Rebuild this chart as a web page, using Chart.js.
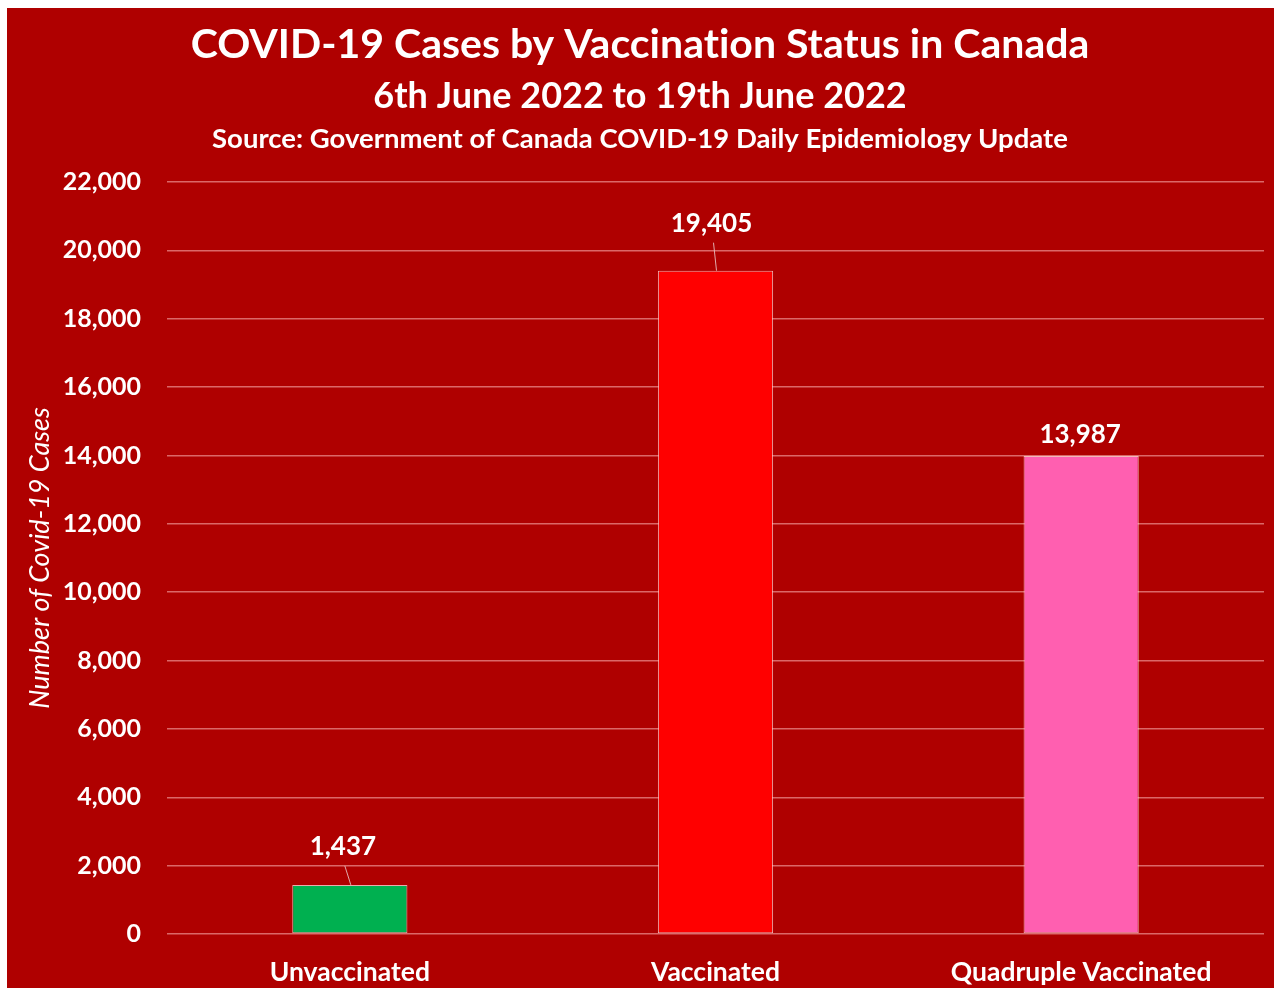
<!DOCTYPE html>
<html>
<head>
    <script src="https://cdn.jsdelivr.net/npm/chart.js"></script>
    <title>COVID-19 Cases by Vaccination Status in Canada</title>
    <style>
        html, body { margin: 0; padding: 0; background: #ffffff; }
        #wrap { position: absolute; left: 0; top: 0; width: 1274px; height: 988px; }
    </style>
</head>
<body>
    <div id="wrap">
        <canvas id="casesChart"></canvas>
    </div>

    <script>
        const categories = ['Unvaccinated', 'Vaccinated', 'Quadruple Vaccinated'];
        const cases = [1437, 19405, 13987];
        const barColors = ['#00b050', '#ff0000', '#ff5fb0'];
        const yTicks = [0, 2000, 4000, 6000, 8000, 10000, 12000, 14000, 16000, 18000, 20000, 22000];
        const titleLines = [
            'COVID-19 Cases by Vaccination Status in Canada',
            '6th June 2022 to 19th June 2022',
            'Source: Government of Canada COVID-19 Daily Epidemiology Update'
        ];

        const FONT = 'Lato, "Open Sans", sans-serif';
        const BG = '#af0000';

        // red panel with the thin white margin on top and left
        const panelPlugin = {
            id: 'panel',
            beforeDraw(chart) {
                const ctx = chart.ctx;
                ctx.save();
                ctx.fillStyle = '#ffffff';
                ctx.fillRect(0, 0, chart.width, chart.height);
                ctx.fillStyle = BG;
                ctx.fillRect(7, 8, chart.width - 7, chart.height - 8);
                ctx.restore();
            }
        };

        // three centred title lines in different sizes
        const headerPlugin = {
            id: 'header',
            afterDraw(chart, args, opts) {
                const ctx = chart.ctx;
                ctx.save();
                ctx.fillStyle = '#ffffff';
                ctx.textAlign = 'center';
                ctx.textBaseline = 'middle';
                ctx.letterSpacing = '0.01px'; // keeps "ti" from turning into a ligature
                opts.lines.forEach((line, i) => {
                    ctx.font = 'bold ' + opts.sizes[i] + 'px ' + FONT;
                    ctx.fillText(line, opts.x, opts.y[i]);
                });
                ctx.restore();
            }
        };

        // value labels above bars, some with a short leader line
        const valueLabelPlugin = {
            id: 'valueLabels',
            afterDatasetsDraw(chart, args, opts) {
                const ctx = chart.ctx;
                const meta = chart.getDatasetMeta(0);
                ctx.save();
                ctx.font = 'bold 26px ' + FONT;
                ctx.textAlign = 'center';
                ctx.textBaseline = 'middle';
                meta.data.forEach((bar, i) => {
                    const off = opts.offsets[i];
                    const lx = bar.x + off[0];
                    const ly = bar.y + off[1];
                    if (off[2]) {
                        ctx.strokeStyle = 'rgba(230,190,190,0.9)';
                        ctx.lineWidth = 1;
                        ctx.beginPath();
                        ctx.moveTo(lx + 2, ly + 19);
                        ctx.lineTo(bar.x + 1, bar.y);
                        ctx.stroke();
                    }
                    ctx.fillStyle = '#ffffff';
                    ctx.fillText(cases[i].toLocaleString('en-US'), lx, ly);
                });
                ctx.restore();
            }
        };

        const ctx = document.getElementById('casesChart').getContext('2d');
        const chart = new Chart(ctx, {
            type: 'bar',
            data: {
                labels: categories,
                datasets: [{
                    label: 'Number of Covid-19 Cases',
                    data: cases,
                    backgroundColor: barColors,
                    borderColor: 'rgba(255,230,230,0.75)',
                    borderWidth: 1,
                    borderSkipped: false,
                    barPercentage: 0.315,
                    categoryPercentage: 1
                }]
            },
            options: {
                responsive: true,
                maintainAspectRatio: false,
                animation: false,
                layout: {
                    padding: { left: 7, right: 10, top: 182, bottom: 0 }
                },
                plugins: {
                    legend: { display: false },
                    tooltip: { enabled: false },
                    header: {
                        lines: titleLines,
                        sizes: [41, 36, 27.5],
                        x: 640,
                        y: [45, 96, 139]
                    },
                    valueLabels: {
                        offsets: [[-7, -38, true], [-4, -47, true], [-1, -21, false]]
                    }
                },
                scales: {
                    x: {
                        grid: { display: false },
                        border: { display: false },
                        ticks: {
                            color: '#ffffff',
                            font: { family: FONT, size: 26.5, weight: 'bold' },
                            padding: 15
                        },
                        afterFit(scale) { scale.height = 54; }
                    },
                    y: {
                        min: 0,
                        max: 22000,
                        afterBuildTicks(scale) {
                            scale.ticks = yTicks.map(v => ({ value: v }));
                        },
                        grid: {
                            color: 'rgba(255,190,190,0.55)',
                            lineWidth: 1.5,
                            drawTicks: false
                        },
                        border: { display: false },
                        ticks: {
                            color: '#ffffff',
                            font: { family: FONT, size: 25, weight: 'bold' },
                            padding: 26,
                            callback: v => v.toLocaleString('en-US')
                        },
                        title: {
                            display: true,
                            text: 'Number of Covid-19 Cases',
                            color: '#ffffff',
                            font: { family: FONT, size: 27, style: 'italic', weight: 'normal' },
                            padding: { top: 17, bottom: 0 }
                        },
                        afterFit(scale) { scale.width = 160; }
                    }
                }
            },
            plugins: [panelPlugin, headerPlugin, valueLabelPlugin]
        });
    </script>
</body>
</html>
